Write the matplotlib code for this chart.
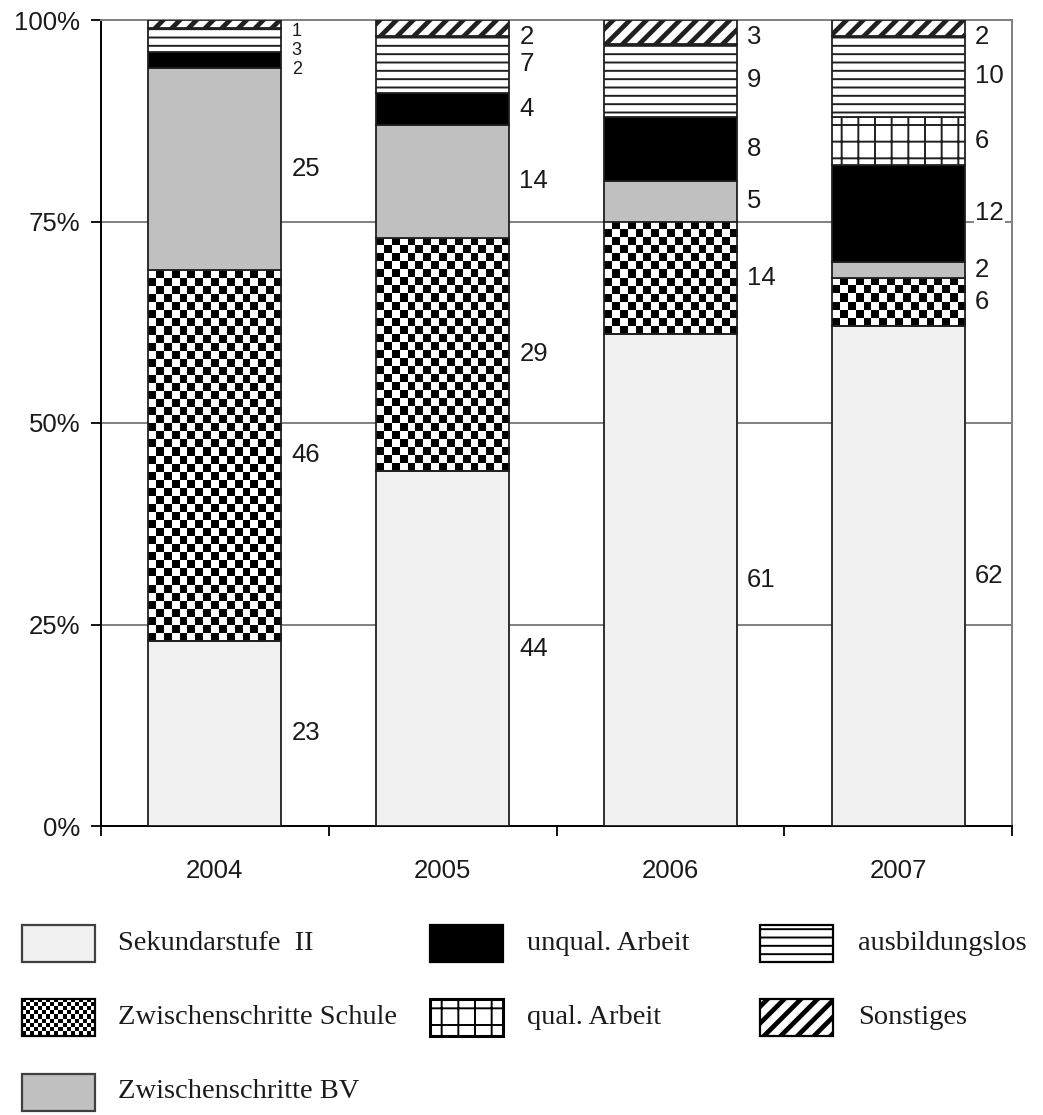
import numpy as np
import matplotlib.pyplot as plt
from matplotlib.patches import Rectangle

# Verbleib der Absolventen, Anteile in %
years = ['2004', '2005', '2006', '2007']
sek2 = [23, 44, 61, 62]
zw_schule = [46, 29, 14, 6]
zw_bv = [25, 14, 5, 2]
unqual = [2, 4, 8, 12]
qual = [0, 0, 0, 6]
ausbildungslos = [3, 7, 9, 10]
sonstiges = [1, 2, 3, 2]

names = ['Sekundarstufe  II', 'Zwischenschritte Schule', 'Zwischenschritte BV',
         'unqual. Arbeit', 'qual. Arbeit', 'ausbildungslos', 'Sonstiges']
series = [sek2, zw_schule, zw_bv, unqual, qual, ausbildungslos, sonstiges]

# Füllung je Kategorie
fills = [
    dict(fc='#f0f0f0', hatch=None, checker=False, hlw=1.0),
    dict(fc='none', hatch=None, checker=True, hlw=1.0),
    dict(fc='#c0c0c0', hatch=None, checker=False, hlw=1.0),
    dict(fc='black', hatch=None, checker=False, hlw=1.0),
    dict(fc='white', hatch='+', checker=False, hlw=1.4),
    dict(fc='white', hatch='--', checker=False, hlw=1.4),
    dict(fc='white', hatch='//', checker=False, hlw=3.4),
]

W, H = 1043, 1115
sans = 'Liberation Sans'
serif = 'Liberation Serif'
txt_col = '#1a1a1a'


def set_hlw(patch, lw):
    if hasattr(patch, 'set_hatch_linewidth'):
        patch.set_hatch_linewidth(lw)


def checker(ax, x0, y0, w, h, ncols, nrows, clip, z):
    pat = np.indices((nrows, ncols)).sum(axis=0) % 2
    im = ax.imshow(pat, cmap='gray', vmin=0, vmax=1,
                   extent=(x0, x0 + w, y0, y0 + h), origin='lower',
                   interpolation='nearest', aspect='auto', zorder=z)
    im.set_clip_path(clip)


fig = plt.figure(figsize=(W / 100, H / 100), dpi=100)
ax = fig.add_axes([101 / W, 1 - 826 / H, 911 / W, 806 / H])

x = np.arange(len(years))
bw = 0.585
bottom = np.zeros(len(years))
for vals, f in zip(series, fills):
    plt.rcParams['hatch.linewidth'] = f['hlw']
    bars = ax.bar(x, vals, bw, bottom=bottom, color=f['fc'], edgecolor='#202020',
                  linewidth=1.3, hatch=f['hatch'], zorder=3)
    for b in bars:
        set_hlw(b, f['hlw'])
        if f['checker'] and b.get_height() > 0:
            checker(ax, b.get_x(), b.get_y(), b.get_width(), b.get_height(),
                    17, int(round(b.get_height())), b, 2)
    bottom += np.array(vals)

# Wertebeschriftung rechts neben den Säulen
cum = np.cumsum(np.array(series), axis=0)
for i in range(len(years)):
    prev = None
    for k in reversed(range(len(series))):
        v = series[k][i]
        if v == 0:
            continue
        small = i == 0 and v <= 3
        fs = 13 if small else 18.5
        gap = 2.4 if small else 3.2
        top = 98.6 if small else 97.9
        y = cum[k, i] - v / 2
        y = min(y, top if prev is None else prev - gap)
        prev = y
        ax.text(i + bw / 2 + 0.045, y, str(v), ha='left', va='center',
                fontsize=fs, family=sans, color=txt_col, zorder=4,
                bbox=dict(fc='white', ec='none', pad=1))

ax.set_xlim(-0.5, len(years) - 0.5)
ax.set_ylim(0, 100)
ax.set_yticks([0, 25, 50, 75, 100])
ax.set_yticklabels(['0%', '25%', '50%', '75%', '100%'])
ax.set_xticks(np.arange(-0.5, len(years), 1.0))
ax.set_xticklabels([])
ax.set_xticks(x, minor=True)
ax.set_xticklabels(years, minor=True)
ax.tick_params(axis='x', which='major', direction='out', length=7, width=1.3)
ax.tick_params(axis='x', which='minor', length=0, pad=24, labelsize=18.5,
               labelcolor=txt_col)
ax.tick_params(axis='y', direction='out', length=7, width=1.3, pad=8,
               labelsize=18.5, labelcolor=txt_col)
for lab in ax.get_xticklabels(minor=True) + ax.get_yticklabels():
    lab.set_family(sans)

ax.yaxis.grid(True, color='#808080', linewidth=1.4)
ax.set_axisbelow(True)
for side in ['left', 'bottom']:
    ax.spines[side].set_color('black')
    ax.spines[side].set_linewidth(1.4)
for side in ['top', 'right']:
    ax.spines[side].set_color('#808080')
    ax.spines[side].set_linewidth(1.4)

# Legende
col_sw = [22, 430, 760]
col_tx = [118, 527, 858]
rows_y = [943, 1017, 1092]
slots = [(0, 0), (0, 1), (0, 2), (1, 0), (1, 1), (2, 0), (2, 1)]
sw_w, sw_h = 73, 37
for name, f, (c, r) in zip(names, fills, slots):
    sx, sy = col_sw[c], rows_y[r]
    sax = fig.add_axes([sx / W, 1 - (sy + sw_h / 2) / H, sw_w / W, sw_h / H])
    sax.set_axis_off()
    sax.set_xlim(0, 1)
    sax.set_ylim(0, 1)
    plt.rcParams['hatch.linewidth'] = f['hlw']
    edge = '#404040' if c == 0 and not f['checker'] else 'black'
    rect = Rectangle((0, 0), 1, 1, facecolor=f['fc'], edgecolor=edge,
                     linewidth=2.2 if f['hatch'] == '+' else 1.6,
                     hatch=f['hatch'], zorder=3, clip_on=False)
    set_hlw(rect, f['hlw'])
    sax.add_patch(rect)
    if f['checker']:
        checker(sax, 0, 0, 1, 1, 18, 9, rect, 2)
    fig.text(col_tx[c] / W, 1 - sy / H, name, ha='left', va='center',
             fontsize=20.5, family=serif, color=txt_col)

fig.savefig('out.png', dpi=100)
